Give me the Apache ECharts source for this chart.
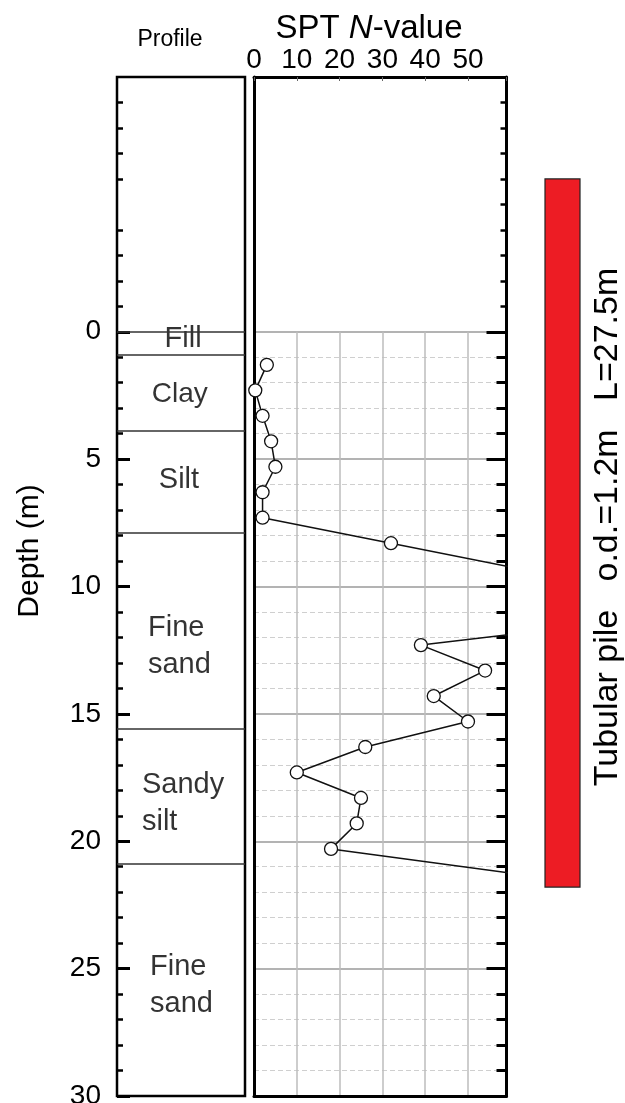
<!DOCTYPE html>
<html><head><meta charset="utf-8">
<script src="https://cdn.jsdelivr.net/npm/echarts@6/dist/echarts.min.js"></script>
<style>html,body{margin:0;padding:0;background:#fff}#c{width:625px;height:1103px}</style>
</head><body><div id="c"></div>
<script>
// ---------- data ----------
const sptDepths = [1.3, 2.3, 3.3, 4.3, 5.3, 6.3, 7.3, 8.3, 9.3, 10.3, 11.3, 12.3, 13.3, 14.3, 15.3, 16.3, 17.3, 18.3, 19.3, 20.3, 21.3];
const sptN      = [3, 0.3, 2, 4, 5, 2, 2, 32, 62, 75, 89, 39, 54, 42, 50, 26, 10, 25, 24, 18, 62];
const layerTops = [0, 0.9, 3.9, 7.9, 15.6, 20.9];
const layerNames = ['Fill', 'Clay', 'Silt', 'Fine\nsand', 'Sandy\nsilt', 'Fine\nsand'];
const layerLabelDepths = [0.3, 2.46, 5.8, 12.37, 18.5, 25.68];
const depthTicks = [0, 5, 10, 15, 20, 25, 30];
const nTicks = [0, 10, 20, 30, 40, 50];
const pileTop = -6.0, pileBottom = 21.8;

// ---------- layout ----------
const FONT = '"Liberation Sans", Arial, sans-serif';
const INK = '#000';
const TOP = 77, BOTTOM = 1096, DMIN = -10, DMAX = 30;
const yZero = TOP + (BOTTOM - TOP) * (0 - DMIN) / (DMAX - DMIN);
const RL = 254, RW = 252.5, NMAX = 59;
const labelLayout = [
  {x: 0.516, align: 'center', size: 29}, {x: 0.49, align: 'center', size: 28}, {x: 0.484, align: 'center', size: 29},
  {x: 0.242, align: 'left', size: 29}, {x: 0.195, align: 'left', size: 29}, {x: 0.258, align: 'left', size: 29}
];

const chart = echarts.init(document.getElementById('c'), null, {renderer: 'canvas', width: 625, height: 1103});
const blk = '#000';
const hidden = {show: false};

const option = {
  animation: false,
  backgroundColor: '#fff',
  textStyle: {fontFamily: FONT},
  grid: [
    {left: 117, top: TOP, width: 128, height: BOTTOM - TOP, show: true, borderColor: blk, borderWidth: 2.5, backgroundColor: 'rgba(0,0,0,0)', outerBoundsMode: 'none'},
    {left: RL, top: TOP, width: RW, height: yZero - TOP, outerBoundsMode: 'none'},
    {left: RL, top: yZero, width: RW, height: BOTTOM - yZero, outerBoundsMode: 'none'},
    {left: 545, top: TOP, width: 35, height: BOTTOM - TOP, outerBoundsMode: 'none'}
  ],
  xAxis: [
    {gridIndex: 0, type: 'value', min: 0, max: 1, show: false},
    {gridIndex: 1, type: 'value', min: 0, max: NMAX, interval: 10, position: 'top',
     axisLine: {show: true, onZero: false, lineStyle: {color: blk, width: 3}},
     axisTick: {show: true, inside: true, length: 4, lineStyle: {color: '#666', width: 1}},
     axisLabel: {show: true, customValues: nTicks, margin: 3, fontSize: 28, color: INK, fontFamily: FONT},
     splitLine: hidden},
    {gridIndex: 2, type: 'value', min: 0, max: NMAX, interval: 10, position: 'bottom',
     axisLine: {show: true, onZero: false, lineStyle: {color: blk, width: 3}},
     axisTick: hidden, axisLabel: hidden,
     splitLine: {show: true, lineStyle: {color: '#bdbdbd', width: 1.5}}},
    {gridIndex: 3, type: 'value', min: 0, max: 1, show: false}
  ],
  yAxis: [
    {gridIndex: 0, type: 'value', inverse: true, min: DMIN, max: DMAX, interval: 5, position: 'left',
     axisLine: hidden,
     axisTick: {show: true, inside: true, length: 13, customValues: depthTicks, lineStyle: {color: blk, width: 3}},
     minorTick: {show: true, splitNumber: 5, length: 6, lineStyle: {color: blk, width: 2.5}},
     axisLabel: {show: true, customValues: depthTicks, margin: 16, fontSize: 28, color: INK, fontFamily: FONT},
     splitLine: hidden},
    {gridIndex: 1, type: 'value', inverse: true, min: DMIN, max: 0, interval: 1, position: 'left',
     axisLine: {show: true, onZero: false, lineStyle: {color: blk, width: 3}}, axisTick: hidden, axisLabel: hidden, splitLine: hidden},
    {gridIndex: 1, type: 'value', inverse: true, min: DMIN, max: 0, interval: 1, position: 'right',
     axisLine: {show: true, onZero: false, lineStyle: {color: blk, width: 3}},
     axisTick: {show: true, inside: true, length: 6, lineStyle: {color: blk, width: 2.5}},
     axisLabel: hidden, splitLine: hidden},
    {gridIndex: 2, type: 'value', inverse: true, min: 0, max: DMAX, interval: 5, position: 'left',
     axisLine: {show: true, onZero: false, lineStyle: {color: blk, width: 3}}, axisTick: hidden, axisLabel: hidden,
     splitLine: {show: true, lineStyle: {color: '#9a9a9a', width: 1.5}},
     minorTick: {show: false, splitNumber: 5},
     minorSplitLine: {show: true, lineStyle: {color: '#cfcfcf', width: 1, type: [5, 3]}}},
    {gridIndex: 2, type: 'value', inverse: true, min: 0, max: DMAX, interval: 5, position: 'right',
     axisLine: {show: true, onZero: false, lineStyle: {color: blk, width: 3}},
     axisTick: {show: true, inside: true, length: 20, lineStyle: {color: blk, width: 3}},
     minorTick: {show: true, splitNumber: 5, length: 10, lineStyle: {color: blk, width: 3}},
     axisLabel: hidden, splitLine: hidden},
    {gridIndex: 3, type: 'value', inverse: true, min: DMIN, max: DMAX, show: false}
  ],
  series: [
    {
      type: 'scatter', xAxisIndex: 0, yAxisIndex: 0, symbolSize: 0, silent: true,
      data: layerNames.map((n, i) => ({
        value: [labelLayout[i].x, layerLabelDepths[i]], name: n,
        label: {align: labelLayout[i].align, fontSize: labelLayout[i].size}
      })),
      label: {show: true, position: 'inside', formatter: p => p.name, fontSize: 29, lineHeight: 37,
              color: INK, fontFamily: FONT, verticalAlign: 'middle'},
      markLine: {
        silent: true, symbol: 'none', label: {show: false},
        lineStyle: {color: '#333', width: 1.5, type: 'solid'},
        data: layerTops.map(d => ({yAxis: d}))
      }
    },
    {
      type: 'line', xAxisIndex: 2, yAxisIndex: 3, clip: true, z: 5,
      data: sptDepths.map((d, i) => [sptN[i], d]),
      symbol: 'circle', symbolSize: 13,
      itemStyle: {color: '#fff', borderColor: '#111', borderWidth: 1.3},
      lineStyle: {color: '#111', width: 1.5}
    },
    {
      type: 'custom', xAxisIndex: 3, yAxisIndex: 5,
      data: [[pileTop, pileBottom]],
      renderItem: (params, api) => {
        const a = api.coord([0, api.value(0)]);
        const b = api.coord([0, api.value(1)]);
        const cs = params.coordSys;
        return {type: 'rect', shape: {x: cs.x, y: a[1], width: cs.width, height: b[1] - a[1]},
                style: {fill: '#ED1C24', stroke: '#222', lineWidth: 1.2}};
      }
    }
  ],
  graphic: [
    {type: 'text', x: 170, y: 40, style: {text: 'Profile', fontSize: 23, fontFamily: FONT, fill: INK, align: 'center', verticalAlign: 'middle'}},
    {type: 'text', x: 369, y: 29, style: {
      text: '{a|SPT }{b|N}{a|-value}', fontFamily: FONT, fill: INK, align: 'center', verticalAlign: 'middle',
      rich: {a: {fontSize: 33, fontFamily: FONT, fill: INK}, b: {fontSize: 33, fontFamily: FONT, fontStyle: 'italic', fill: INK}}}},
    {type: 'text', x: 30, y: 551, rotation: Math.PI / 2, style: {text: 'Depth (m)', fontSize: 30, fontFamily: FONT, fill: INK, align: 'center', verticalAlign: 'middle'}},
    {type: 'text', x: 608, y: 527, rotation: Math.PI / 2, style: {text: 'Tubular pile   o.d.=1.2m   L=27.5m', fontSize: 34, fontFamily: FONT, fill: INK, align: 'center', verticalAlign: 'middle'}}
  ]
};
chart.setOption(option);
</script>
</body></html>
